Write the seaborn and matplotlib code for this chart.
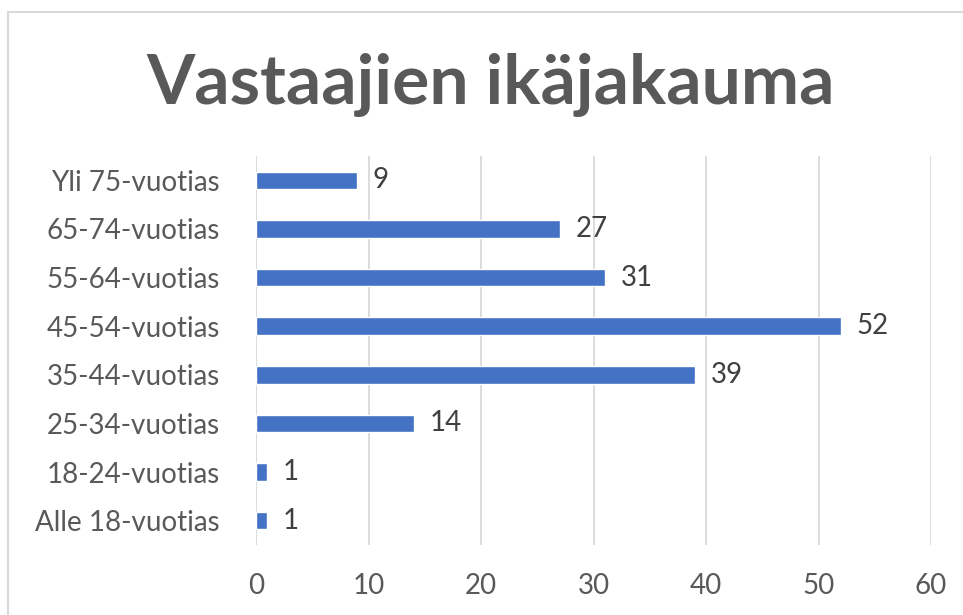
import matplotlib
matplotlib.use("Agg")
import matplotlib.pyplot as plt
import seaborn as sns
import pandas as pd
from matplotlib.patches import Rectangle

categories = ["Yli 75-vuotias", "65-74-vuotias", "55-64-vuotias", "45-54-vuotias",
              "35-44-vuotias", "25-34-vuotias", "18-24-vuotias", "Alle 18-vuotias"]
values = [9, 27, 31, 52, 39, 14, 1, 1]
xticks = [0, 10, 20, 30, 40, 50, 60]
title = "Vastaajien ikäjakauma"

df = pd.DataFrame({"cat": categories, "val": values})

sns.set_theme(style="white")
plt.rcParams["font.family"] = ["Lato", "DejaVu Sans"]

fig = plt.figure(figsize=(9.63, 6.15), dpi=100)
ax = fig.add_axes([256 / 963, 1 - 545 / 615, (931 - 256) / 963, (545 - 156) / 615])

sns.barplot(data=df, x="val", y="cat", orient="h", color="#4472C4", saturation=1,
            width=0.36, ax=ax, order=categories)

ax.set_xlim(0, 60)
ax.set_ylim(7.5, -0.5)
ax.set_xticks(xticks)
ax.set_xticklabels([str(t) for t in xticks])
ax.xaxis.grid(True, color="#D9D9D9", linewidth=1.3)
ax.set_axisbelow(True)
for s in ax.spines.values():
    s.set_visible(False)
ax.set_xlabel("")
ax.set_ylabel("")
ax.tick_params(axis="x", labelsize=20, labelcolor="#595959", length=0, pad=20)
ax.tick_params(axis="y", labelsize=20, labelcolor="#595959", length=0, pad=26)

for i, v in enumerate(values):
    ax.text(v + 1.4, i, str(v), va="center", ha="left", fontsize=20, color="#404040")

fig.text(0.509, 1 - 85 / 615, title, ha="center", va="center", fontsize=50,
         fontweight="bold", color="#595959")

fig.patches.append(Rectangle((8 / 963, -0.1), 1.2, 1 - 12 / 615 + 0.1, transform=fig.transFigure,
                             fill=False, edgecolor="#D9D9D9", linewidth=1.5))

fig.savefig("out.png", dpi=100, facecolor="white")
